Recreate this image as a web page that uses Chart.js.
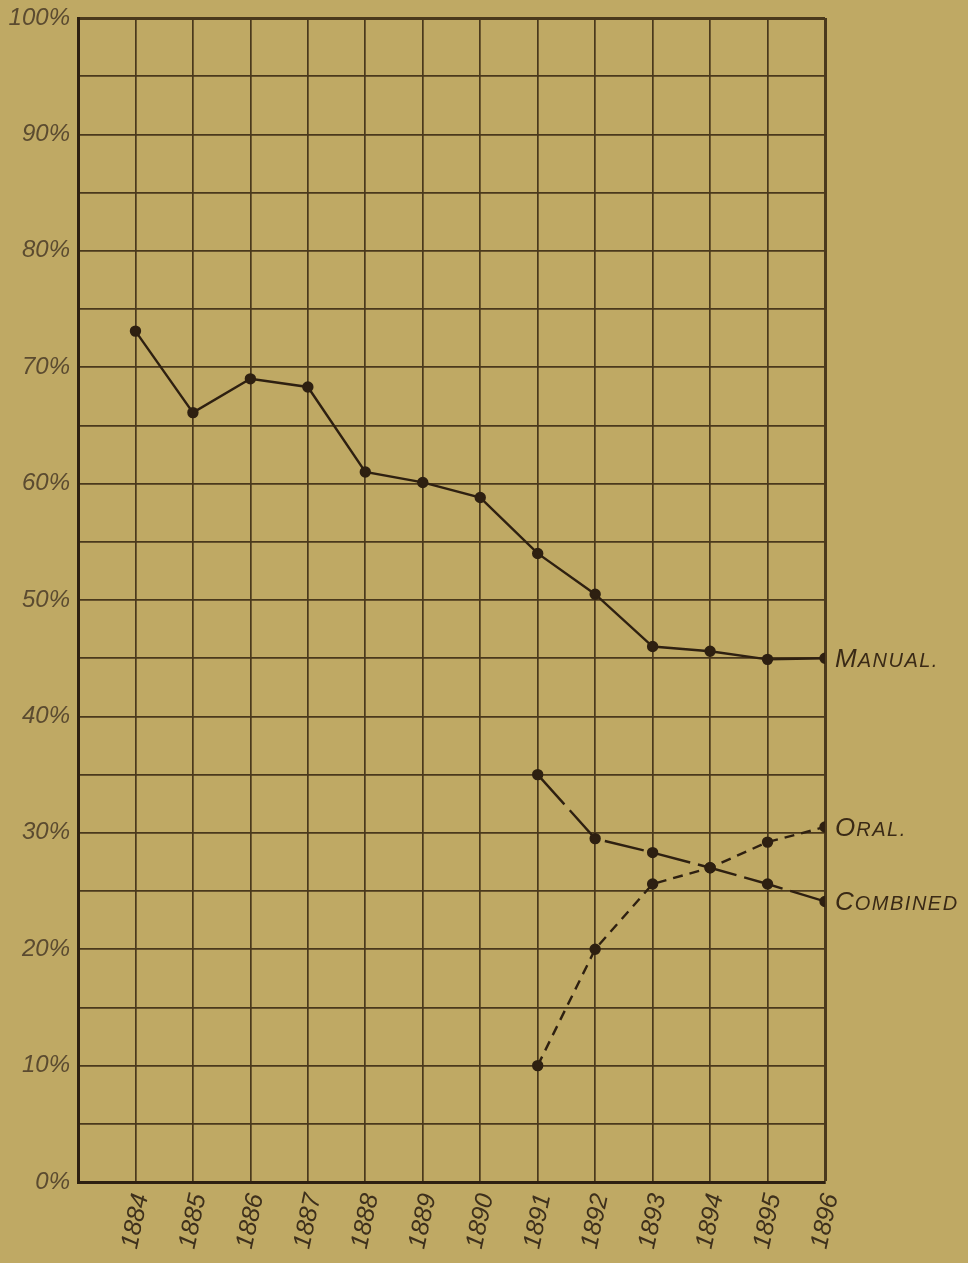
<!DOCTYPE html>
<html><head><meta charset="utf-8">
<script src="https://cdn.jsdelivr.net/npm/chart.js@4/dist/chart.umd.min.js"></script>
<style>html,body{margin:0;padding:0;background:#bfa964;}#wrap{width:968px;height:1263px;position:relative}</style>
</head><body><div id="wrap"><canvas id="c"></canvas></div>
<script>
const years = [1884,1885,1886,1887,1888,1889,1890,1891,1892,1893,1894,1895,1896];
const manual = [73.1,66.1,69.0,68.3,61.0,60.1,58.8,54.0,50.5,46.0,45.6,44.9,45.0];
const laterYears = [1891,1892,1893,1894,1895,1896];
const oral = [10.0,20.0,25.6,27.0,29.2,30.5];
const combined = [35.0,29.5,28.3,27.0,25.6,24.1];
const seriesNames = ['Manual.','Oral.','Combined'];

const INK = '#2e2011';
const GRID = '#4a391c';
const pts = (xs, ys) => xs.map((x,i)=>({x:x,y:ys[i]}));

const labelPlugin = {
  id:'endLabels',
  afterDatasetsDraw(chart){
    const ctx = chart.ctx;
    ctx.save();
    ctx.fillStyle = '#3a2a16';
    ctx.textBaseline = 'alphabetic';
    chart.data.datasets.forEach((ds,i)=>{
      const meta = chart.getDatasetMeta(i);
      const p = meta.data[meta.data.length-1];
      const name = ds.label.toUpperCase();
      let x = p.x + 10, y = p.y + 9;
      ctx.font = 'italic 26px "Liberation Sans"';
      ctx.fillText(name[0], x, y);
      x += ctx.measureText(name[0]).width + 1;
      ctx.font = 'italic 20px "Liberation Sans"';
      for (const ch of name.slice(1)) { ctx.fillText(ch, x, y); x += ctx.measureText(ch).width + 1.5; }
    });
    ctx.restore();
  }
};

const common = {pointRadius:4.5, pointBackgroundColor:INK, pointBorderColor:INK, borderColor:INK, borderWidth:2.4, fill:false, tension:0};

new Chart(document.getElementById('c'), {
  type:'line',
  data:{datasets:[
    Object.assign({label:seriesNames[0], data:pts(years,manual)}, common),
    Object.assign({label:seriesNames[1], data:pts(laterYears,oral), borderDash:[10,7]}, common),
    Object.assign({label:seriesNames[2], data:pts(laterYears,combined), borderDash:[40,8]}, common)
  ]},
  options:{
    responsive:true, maintainAspectRatio:false, animation:false,
    layout:{padding:{top:18,right:143,left:0,bottom:0}},
    plugins:{legend:{display:false}, tooltip:{enabled:false}},
    scales:{
      x:{type:'linear', min:1883, max:1896,
        afterFit(s){ s.height = 81; },
        border:{display:true, width:3, color:INK},
        grid:{drawTicks:false, color:GRID, lineWidth:c=> (c.tick && c.tick.value===1896) ? 3 : 1.7},
        ticks:{stepSize:1, autoSkip:false, minRotation:78, maxRotation:78, padding:9, labelOffset:6,
          color:'#3e301c', font:{family:'Liberation Sans', style:'italic', size:25},
          callback:v=> v===1883 ? '' : String(v)}
      },
      y:{min:0, max:100,
        afterFit(s){ s.width = 78; s.paddingTop = 0; s.paddingBottom = 0; },
        border:{display:true, width:3, color:INK},
        grid:{drawTicks:false, color:GRID, lineWidth:c=> (c.tick && c.tick.value===100) ? 3 : 1.7},
        ticks:{stepSize:5, autoSkip:false, padding:8, color:'#5b4b30',
          font:{family:'Liberation Sans', style:'italic', size:24},
          callback:v=> v%10===0 ? v+'%' : ''}
      }
    }
  },
  plugins:[labelPlugin]
});
</script></body></html>
